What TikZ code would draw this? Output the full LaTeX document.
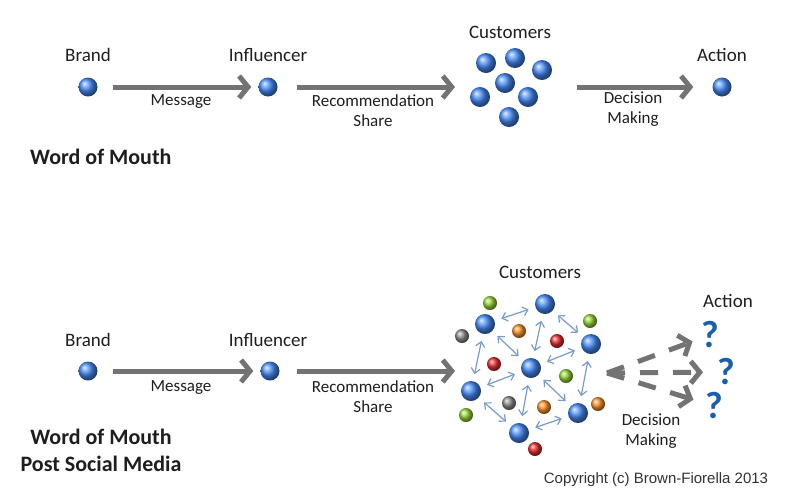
\documentclass[tikz,border=0pt]{standalone}
\usepackage{fontspec}
\setmainfont{Carlito}
\newfontfamily\copyfont{Liberation Sans}
\usetikzlibrary{arrows.meta}
\definecolor{flowgray}{RGB}{115,115,115}
\definecolor{linkblue}{RGB}{120,155,205}
\definecolor{ballblue}{RGB}{70,140,250}
\definecolor{ballgreen}{RGB}{150,215,55}
\definecolor{ballgray}{RGB}{140,140,140}
\definecolor{ballorange}{RGB}{250,145,40}
\definecolor{ballred}{RGB}{230,45,45}
\definecolor{qblue}{RGB}{25,95,175}
\definecolor{inktext}{RGB}{30,30,30}
\definecolor{copygray}{RGB}{50,50,50}
\begin{document}
\begin{tikzpicture}[x=1pt,y=-1pt,
    every node/.style={inner sep=0pt,text=inktext},
    bigball/.style={circle,minimum size=20pt,shading=ball,ball color=#1},
    smallball/.style={circle,minimum size=14pt,shading=ball,ball color=#1},
    nametext/.style={font=\fontsize{19}{22}\selectfont},
    flowtext/.style={font=\fontsize{17}{20}\selectfont,align=center},
    titletext/.style={font=\bfseries\fontsize{22}{27}\selectfont,align=center},
    flow/.style={draw=flowgray,line width=5pt,-{Straight Barb[length=9pt,width=22pt]}},
    dashflow/.style={flow,dash pattern=on 18pt off 15pt},
    link/.style={draw=linkblue,line width=1.2pt,{Straight Barb[length=5pt,width=9pt]}-{Straight Barb[length=5pt,width=9pt]},shorten >=7pt,shorten <=7pt},
    qmark/.style={font=\bfseries\fontsize{38}{38}\selectfont,text=qblue}]
    \useasboundingbox (0,0) rectangle (800,499);

    % word of mouth
    \node[nametext] (brandA-t) at (88,55) {Brand};
    \node[bigball=ballblue,minimum size=19pt] (brandA) at (88,87) {};
    \node[nametext] (inflA-t) at (268,55) {Influencer};
    \node[bigball=ballblue,minimum size=19pt] (inflA) at (268,87) {};
    \node[nametext] (custA-t) at (510,32) {Customers};
    \node[bigball=ballblue] (cA1) at (486,63) {};
    \node[bigball=ballblue] (cA2) at (515,58) {};
    \node[bigball=ballblue] (cA3) at (542,70) {};
    \node[bigball=ballblue] (cA4) at (505,83) {};
    \node[bigball=ballblue] (cA5) at (480,97) {};
    \node[bigball=ballblue] (cA6) at (528,97) {};
    \node[bigball=ballblue] (cA7) at (509,117) {};
    \coordinate (custA-in) at (455,87);
    \coordinate (custA-out) at (577,87);
    \node[nametext] (actA-t) at (722,55) {Action};
    \node[bigball=ballblue,minimum size=19pt] (actA) at (722,87) {};

    \draw[flow,shorten <=15pt,shorten >=7pt] (brandA) -- (inflA);
    \draw[flow,shorten <=19pt] (inflA) -- (custA-in);
    \draw[flow,shorten >=19pt] (custA-out) -- (actA);
    \node[flowtext] (msgA) at (181,102) {Message};
    \node[flowtext] (recA) at (373,111) {Recommendation\\Share};
    \node[flowtext] (decA) at (633,109) {Decision\\Making};
    \node[titletext,anchor=west] (womA) at (30,157) {Word of Mouth};

    % post social media
    \node[nametext] (brandB-t) at (88,340) {Brand};
    \node[bigball=ballblue,minimum size=19pt] (brandB) at (88,371) {};
    \node[nametext] (inflB-t) at (268,340) {Influencer};
    \node[bigball=ballblue,minimum size=19pt] (inflB) at (270,371) {};
    \node[nametext] (custB-t) at (540,272) {Customers};
    \coordinate (custB-in) at (455,371);

    \node[smallball=ballgreen] (g1) at (490,303) {};
    \node[smallball=ballgreen] (g2) at (590,321) {};
    \node[smallball=ballgreen] (g3) at (566,376) {};
    \node[smallball=ballgreen] (g4) at (466,415) {};
    \node[smallball=ballgray] (k1) at (462,336) {};
    \node[smallball=ballgray] (k2) at (509,403) {};
    \node[smallball=ballorange] (o1) at (519,331) {};
    \node[smallball=ballorange] (o2) at (544,407) {};
    \node[smallball=ballorange] (o3) at (598,404) {};
    \node[smallball=ballred] (r1) at (557,341) {};
    \node[smallball=ballred] (r2) at (494,364) {};
    \node[smallball=ballred] (r3) at (535,449) {};
    \node[bigball=ballblue] (b1) at (545,304) {};
    \node[bigball=ballblue] (b2) at (485,324) {};
    \node[bigball=ballblue] (b3) at (591,344) {};
    \node[bigball=ballblue] (b4) at (531,368) {};
    \node[bigball=ballblue] (b5) at (471,391) {};
    \node[bigball=ballblue] (b6) at (578,413) {};
    \node[bigball=ballblue] (b7) at (519,433) {};

    \draw[link] (b2) -- (b1);
    \draw[link] (b1) -- (b3);
    \draw[link] (b1) -- (b4);
    \draw[link] (b2) -- (b4);
    \draw[link] (b4) -- (b3);
    \draw[link] (b2) -- (b5);
    \draw[link] (b5) -- (b4);
    \draw[link] (b4) -- (b7);
    \draw[link] (b4) -- (b6);
    \draw[link] (b3) -- (b6);
    \draw[link] (b5) -- (b7);
    \draw[link] (b7) -- (b6);

    \coordinate (fan) at (607,373);
    \node[nametext] (actB-t) at (728,301) {Action};
    \node[qmark] (q1) at (710,335) {?};
    \node[qmark] (q2) at (726,372) {?};
    \node[qmark] (q3) at (714,406) {?};

    \draw[flow,shorten <=15pt,shorten >=7pt] (brandB) -- (inflB);
    \draw[flow,shorten <=17pt] (inflB) -- (custB-in);
    \draw[dashflow,shorten >=9pt] (fan) -- (q1);
    \draw[dashflow,shorten >=14pt] (fan) -- (q2);
    \draw[dashflow,shorten >=12pt] (fan) -- (q3);
    \node[flowtext] (msgB) at (181,387) {Message};
    \node[flowtext] (recB) at (373,397) {Recommendation\\Share};
    \node[flowtext] (decB) at (651,431) {Decision\\Making};
    \node[titletext] (womB) at (101,450) {Word of Mouth\\Post Social Media};

    \node[font=\copyfont\fontsize{15}{18}\selectfont,text=copygray] (copy) at (656,480) {Copyright (c) Brown-Fiorella 2013};
\end{tikzpicture}
\end{document}
